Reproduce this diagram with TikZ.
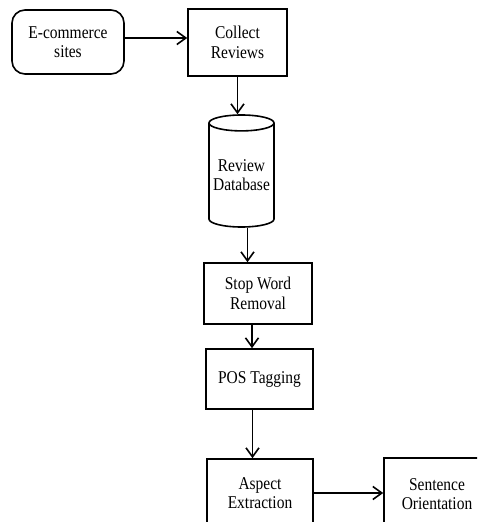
\documentclass[tikz,border=0pt]{standalone}
\usepackage{fontspec}
\setmainfont{Liberation Serif}[FakeStretch=0.86]
\usetikzlibrary{shapes.geometric,arrows.meta}

\tikzset{
    stage/.style={draw,line width=1.6pt,align=center,
                  font=\fontsize{18}{19.5}\selectfont},
    stagebox/.style={stage,rectangle,inner sep=0pt},
}

\begin{document}
\begin{tikzpicture}[x=1pt,y=-1pt,line width=1.6pt,
                    >={Straight Barb[length=9pt,width=13pt]}]
    \useasboundingbox (0,0) rectangle (477,522);
    \clip (0,0) rectangle (477,522);

    \node [stage,rounded corners=13pt,minimum width=112pt,minimum height=64pt]
          (ecom) at (68,42) {E-commerce\\sites};
    \node [stagebox,minimum width=99pt,minimum height=67pt]
          (collect) at (237.5,42.5) {Collect\\Reviews};
    \node [stage,cylinder,shape border rotate=90,aspect=0.28,inner sep=0pt,
           minimum width=65pt,minimum height=112pt,anchor=shape center]
          (db) at (241.5,171) {Review\\Database};
    \node [stagebox,minimum width=108pt,minimum height=61pt]
          (stop) at (258,293.5) {Stop Word\\Removal};
    \node [stagebox,minimum width=107pt,minimum height=60pt]
          (pos) at (259.5,379) {POS Tagging};
    % these two run past the page edge
    \node [stagebox,minimum width=106pt,minimum height=68pt]
          (aspect) at (260,493) {Aspect\\Extraction};
    \node [stagebox,minimum width=106pt,minimum height=72pt]
          (orient) at (437,494) {Sentence\\Orientation};

    \draw [->] ([yshift=4pt]ecom.east) -- ([yshift=4pt]ecom.east -| collect.west);
    \draw [->] (collect.south) -- (collect.south |- db.top);
    \draw [->] ([xshift=6pt]db.bottom) -- ([xshift=6pt]db.bottom |- stop.north);
    \draw [->] ([xshift=-6pt]stop.south) -- ([xshift=-6pt]stop.south |- pos.north);
    \draw [->] ([xshift=-7pt]pos.south) -- ([xshift=-7pt]pos.south |- aspect.north);
    \draw [->] (aspect.east) -- (aspect.east -| orient.west);
\end{tikzpicture}
\end{document}
